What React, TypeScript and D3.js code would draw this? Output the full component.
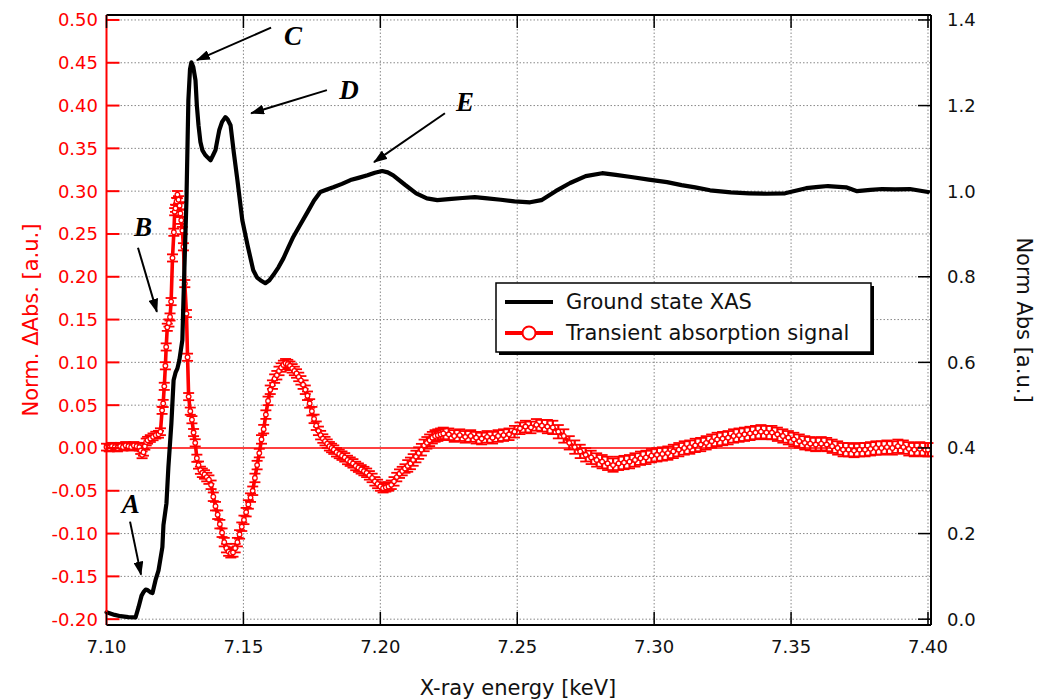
import React from "react";
import * as d3 from "d3";

// ---------- DATA ----------
const xTicks = [7.1, 7.15, 7.2, 7.25, 7.3, 7.35, 7.4];
const leftTicks = [-0.2, -0.15, -0.1, -0.05, 0, 0.05, 0.1, 0.15, 0.2, 0.25, 0.3, 0.35, 0.4, 0.45, 0.5];
const rightTicks = [0, 0.2, 0.4, 0.6, 0.8, 1.0, 1.2, 1.4];

// Ground state XAS (right axis): [energy keV, norm abs]
const groundState: [number, number][] = [
  [7.1, 0.016], [7.1011, 0.014], [7.103, 0.01], [7.1051, 0.007], [7.108, 0.005], [7.1106, 0.004],
  [7.1117, 0.028], [7.1128, 0.055], [7.1135, 0.063], [7.1143, 0.069], [7.115, 0.068], [7.116, 0.063],
  [7.1168, 0.061], [7.1179, 0.091], [7.119, 0.114], [7.1204, 0.168], [7.1208, 0.22], [7.1219, 0.271],
  [7.1226, 0.355], [7.1237, 0.458], [7.1245, 0.558], [7.1252, 0.576], [7.1259, 0.586], [7.1266, 0.605],
  [7.1277, 0.652], [7.1281, 0.745], [7.1292, 0.979], [7.1299, 1.213], [7.1305, 1.285], [7.131, 1.301],
  [7.1317, 1.29], [7.1325, 1.259], [7.133, 1.2], [7.1336, 1.154], [7.1343, 1.115], [7.135, 1.096],
  [7.136, 1.085], [7.1369, 1.079], [7.138, 1.072], [7.139, 1.085], [7.1398, 1.096], [7.1405, 1.12],
  [7.1412, 1.143], [7.1422, 1.162], [7.1434, 1.173], [7.1442, 1.168], [7.1453, 1.154], [7.1465, 1.09],
  [7.1478, 1.026], [7.1496, 0.932], [7.1515, 0.874], [7.1536, 0.815], [7.155, 0.798], [7.1562, 0.792],
  [7.158, 0.785], [7.1595, 0.792], [7.1609, 0.804], [7.1628, 0.822], [7.1646, 0.843], [7.1665, 0.87],
  [7.1682, 0.893], [7.1708, 0.922], [7.1734, 0.951], [7.1758, 0.978], [7.1781, 0.998], [7.1805, 1.004],
  [7.1828, 1.009], [7.186, 1.017], [7.1891, 1.026], [7.192, 1.031], [7.1953, 1.037], [7.198, 1.043],
  [7.2007, 1.047], [7.2027, 1.044], [7.2047, 1.037], [7.209, 1.015], [7.2131, 0.995], [7.217, 0.983],
  [7.2208, 0.979], [7.226, 0.982], [7.23, 0.984], [7.2345, 0.986], [7.2391, 0.983], [7.244, 0.98],
  [7.249, 0.976], [7.2547, 0.974], [7.2588, 0.979], [7.264, 1.0], [7.2693, 1.019], [7.275, 1.035],
  [7.281, 1.042], [7.286, 1.038], [7.2916, 1.033], [7.298, 1.027], [7.3047, 1.021], [7.31, 1.014],
  [7.315, 1.009], [7.3204, 1.002], [7.328, 0.997], [7.3347, 0.995], [7.341, 0.994], [7.3478, 0.995],
  [7.3555, 1.007], [7.36, 1.01], [7.3635, 1.012], [7.3701, 1.009], [7.3741, 1.0], [7.379, 1.003],
  [7.3832, 1.005], [7.388, 1.004], [7.3934, 1.005], [7.4, 0.998],
];

// Transient absorption signal (left axis): [energy keV, norm dAbs]
const transient: [number, number][] = [
  [7.1, 0.001], [7.101, 0.0], [7.102, 0.002], [7.103, 0.001], [7.104, 0.0], [7.105, 0.002], [7.106, 0.001],
  [7.107, 0.003], [7.108, 0.002], [7.109, 0.001], [7.11, 0.003], [7.111, 0.002], [7.112, 0.001],
  [7.1125, -0.003], [7.113, -0.008], [7.1135, -0.005], [7.114, 0.002], [7.1145, 0.007], [7.115, 0.009],
  [7.116, 0.011], [7.117, 0.013], [7.118, 0.015], [7.119, 0.016], [7.1197, 0.019], [7.1203, 0.044],
  [7.1207, 0.052], [7.1211, 0.072], [7.1215, 0.096], [7.1218, 0.118], [7.1222, 0.141], [7.1228, 0.146],
  [7.1232, 0.153], [7.1236, 0.171], [7.1241, 0.222], [7.1246, 0.252], [7.1249, 0.276], [7.1252, 0.28],
  [7.1256, 0.288], [7.1259, 0.296], [7.1263, 0.29], [7.1267, 0.283], [7.127, 0.274], [7.1273, 0.266],
  [7.1277, 0.254], [7.1281, 0.235], [7.1286, 0.192], [7.1292, 0.157], [7.1296, 0.106], [7.13, 0.06],
  [7.1306, 0.043], [7.1312, 0.033], [7.1318, 0.018], [7.1324, 0.006], [7.133, -0.012], [7.1336, -0.02],
  [7.1343, -0.026], [7.135, -0.029], [7.1358, -0.031], [7.1366, -0.034], [7.1374, -0.037], [7.1382, -0.043],
  [7.139, -0.057], [7.1398, -0.068], [7.1406, -0.078], [7.1414, -0.089], [7.1422, -0.099], [7.143, -0.11],
  [7.1438, -0.117], [7.1446, -0.121], [7.1454, -0.123], [7.1462, -0.122], [7.147, -0.117], [7.1478, -0.11],
  [7.1486, -0.101], [7.1494, -0.092], [7.1502, -0.084], [7.151, -0.075], [7.1518, -0.066], [7.1526, -0.058],
  [7.1534, -0.05], [7.1542, -0.035], [7.155, -0.02], [7.1558, -0.006], [7.1566, 0.01], [7.1574, 0.022],
  [7.1582, 0.039], [7.159, 0.055], [7.1598, 0.068], [7.1606, 0.074], [7.1614, 0.081], [7.1622, 0.085],
  [7.163, 0.09], [7.1638, 0.094], [7.1646, 0.097], [7.1654, 0.099], [7.1662, 0.098], [7.167, 0.096],
  [7.1678, 0.093], [7.1686, 0.09], [7.1694, 0.087], [7.1702, 0.083], [7.171, 0.079], [7.1718, 0.074],
  [7.1726, 0.068], [7.1734, 0.061], [7.1742, 0.052], [7.175, 0.043], [7.1758, 0.034], [7.1766, 0.026],
  [7.1774, 0.02], [7.1782, 0.015], [7.179, 0.011], [7.1798, 0.008], [7.1806, 0.005], [7.1814, 0.002],
  [7.1822, 0.0], [7.183, -0.002], [7.184, -0.005], [7.185, -0.007], [7.186, -0.009], [7.187, -0.011],
  [7.188, -0.014], [7.189, -0.016], [7.19, -0.018], [7.191, -0.021], [7.192, -0.023], [7.193, -0.025],
  [7.194, -0.027], [7.195, -0.029], [7.196, -0.032], [7.197, -0.035], [7.198, -0.039], [7.199, -0.042],
  [7.2, -0.045], [7.201, -0.047], [7.202, -0.046], [7.203, -0.045], [7.204, -0.043], [7.205, -0.039],
  [7.206, -0.034], [7.207, -0.03], [7.208, -0.027], [7.209, -0.024], [7.21, -0.021], [7.211, -0.018],
  [7.212, -0.014], [7.213, -0.01], [7.214, -0.006], [7.215, -0.002], [7.216, 0.003], [7.217, 0.006],
  [7.218, 0.009], [7.219, 0.012], [7.22, 0.014], [7.221, 0.015], [7.222, 0.016], [7.223, 0.017],
  [7.225, 0.016], [7.227, 0.014], [7.229, 0.015], [7.231, 0.013], [7.233, 0.014], [7.235, 0.012],
  [7.237, 0.011], [7.239, 0.013], [7.241, 0.012], [7.243, 0.014], [7.245, 0.015], [7.247, 0.016],
  [7.249, 0.019], [7.251, 0.023], [7.253, 0.025], [7.255, 0.024], [7.257, 0.027], [7.259, 0.026],
  [7.261, 0.025], [7.263, 0.024], [7.265, 0.019], [7.267, 0.014], [7.269, 0.006], [7.271, 0.001],
  [7.273, -0.004], [7.275, -0.008], [7.277, -0.011], [7.279, -0.014], [7.281, -0.016], [7.283, -0.018],
  [7.285, -0.02], [7.287, -0.018], [7.289, -0.017], [7.291, -0.016], [7.293, -0.014], [7.295, -0.012],
  [7.297, -0.011], [7.299, -0.009], [7.301, -0.008], [7.303, -0.007], [7.305, -0.006], [7.307, -0.004],
  [7.309, -0.002], [7.311, 0.0], [7.313, 0.001], [7.315, 0.003], [7.317, 0.004], [7.319, 0.006],
  [7.321, 0.008], [7.323, 0.01], [7.325, 0.011], [7.327, 0.012], [7.329, 0.014], [7.331, 0.015],
  [7.333, 0.016], [7.335, 0.017], [7.337, 0.018], [7.339, 0.019], [7.341, 0.018], [7.343, 0.018],
  [7.345, 0.016], [7.347, 0.014], [7.349, 0.012], [7.351, 0.01], [7.353, 0.008], [7.355, 0.006],
  [7.357, 0.005], [7.359, 0.004], [7.361, 0.005], [7.363, 0.004], [7.365, 0.002], [7.367, 0.0],
  [7.369, -0.002], [7.371, -0.002], [7.373, -0.003], [7.375, -0.002], [7.377, -0.002], [7.379, -0.001],
  [7.381, 0.0], [7.383, 0.0], [7.385, 0.001], [7.387, 0.0], [7.389, 0.002], [7.391, 0.001],
  [7.393, -0.001], [7.395, -0.002], [7.397, -0.001], [7.399, -0.002], [7.4, -0.002],
];

// error bar half-widths by energy band: [start energy, error]
const errorBands: [number, number][] = [
  [7.1, 0.004], [7.12, 0.0042], [7.135, 0.005], [7.21, 0.0068], [7.26, 0.0078],
];

// annotations in data coordinates (energy, left-axis value)
const annotations = [
  { label: "A", tx: 7.1089, ty: -0.065, from: [7.1086, -0.086], to: [7.1126, -0.148] },
  { label: "B", tx: 7.1133, ty: 0.258, from: [7.1115, 0.234], to: [7.1184, 0.159] },
  { label: "C", tx: 7.1681, ty: 0.481, from: [7.1601, 0.491], to: [7.133, 0.453] },
  { label: "D", tx: 7.1886, ty: 0.418, from: [7.1805, 0.418], to: [7.1528, 0.391] },
  { label: "E", tx: 7.2309, ty: 0.404, from: [7.2236, 0.391], to: [7.1977, 0.334] },
];

const legendLabels = ["Ground state XAS", "Transient absorption signal"];

// ---------- LAYOUT ----------
const W = 1038;
const H = 700;
const PL = 106.5, PR = 931, PT = 15, PB = 625;
const RED = "#ff0000";
const FONT = "'DejaVu Sans', Verdana, sans-serif";

const x = d3.scaleLinear().domain([7.1, 7.4011]).range([PL, PR]);
const yL = d3.scaleLinear().domain([-0.2068, 0.5058]).range([PB, PT]);
const yR = d3.scaleLinear().domain([-0.0136, 1.4116]).range([PB, PT]);

function errFor(e: number) {
  let err = errorBands[0][1];
  for (const [s, v] of errorBands) if (e >= s) err = v;
  return err;
}

export default function App() {
  const blackLine = d3.line<[number, number]>().x((d) => x(d[0])).y((d) => yR(d[1]))(groundState) || "";
  const redLine = d3.line<[number, number]>().x((d) => x(d[0])).y((d) => yL(d[1]))(transient) || "";
  const tickLen = 13;
  const cap = 5.5;

  return (
    <svg width={W} height={H} style={{ position: "absolute", left: 0, top: 0, background: "#fff" }} fontFamily={FONT}>
      <defs>
        <marker id="arrowHead" markerUnits="userSpaceOnUse" viewBox="0 0 14 10" refX={13} refY={5}
          markerWidth={14} markerHeight={10} orient="auto">
          <path d="M0,0 L14,5 L0,10 Z" fill="#000" />
        </marker>
      </defs>
      <rect x={0} y={0} width={W} height={H} fill="#fff" />

      {/* grid */}
      <g stroke="#888" strokeWidth={1} strokeDasharray="1.5,2">
        {leftTicks.filter((t) => Math.abs(t) > 1e-9).map((t) => (
          <line key={"gy" + t} x1={PL} x2={PR} y1={yL(t)} y2={yL(t)} />
        ))}
        {xTicks.slice(1).map((t) => (
          <line key={"gx" + t} x1={x(t)} x2={x(t)} y1={PT} y2={PB} />
        ))}
      </g>
      {/* zero line */}
      <line x1={PL} x2={PR} y1={yL(0)} y2={yL(0)} stroke={RED} strokeWidth={1.5} />

      {/* transient series */}
      <path d={redLine} fill="none" stroke={RED} strokeWidth={3.6} strokeLinejoin="round" />
      <g stroke={RED} strokeWidth={1.8}>
        {transient.map((d, i) => {
          const e = errFor(d[0]);
          const cx = x(d[0]);
          const y1 = yL(d[1] - e);
          const y2 = yL(d[1] + e);
          return (
            <g key={"eb" + i}>
              <line x1={cx} x2={cx} y1={y1} y2={y2} strokeWidth={2.2} />
              <line x1={cx - cap} x2={cx + cap} y1={y1} y2={y1} />
              <line x1={cx - cap} x2={cx + cap} y1={y2} y2={y2} />
            </g>
          );
        })}
      </g>
      <g>
        {transient.map((d, i) => (
          <circle key={"m" + i} cx={x(d[0])} cy={yL(d[1])} r={2.3} fill="#fff" stroke={RED} strokeWidth={1.3} />
        ))}
      </g>

      {/* ground state */}
      <path d={blackLine} fill="none" stroke="#000" strokeWidth={4.2} strokeLinejoin="round" strokeLinecap="round" />

      {/* frame */}
      <line x1={PL} x2={PR} y1={PT} y2={PT} stroke="#000" strokeWidth={2} />
      <line x1={PR} x2={PR} y1={PT} y2={PB} stroke="#000" strokeWidth={2} />
      <line x1={PL} x2={PR} y1={PB} y2={PB} stroke="#000" strokeWidth={2} />
      <line x1={PL} x2={PL} y1={PT} y2={PB} stroke={RED} strokeWidth={2} />

      {/* left ticks */}
      <g>
        {leftTicks.map((t) => (
          <g key={"lt" + t}>
            <line x1={PL} x2={PL + tickLen} y1={yL(t)} y2={yL(t)} stroke={RED} strokeWidth={2} />
            <text x={98} y={yL(t)} textAnchor="end" dominantBaseline="central" fill={RED} fontSize={18}>
              {t.toFixed(2)}
            </text>
          </g>
        ))}
      </g>
      {/* right ticks */}
      <g>
        {rightTicks.map((t) => (
          <g key={"rt" + t}>
            <line x1={PR - tickLen} x2={PR} y1={yR(t)} y2={yR(t)} stroke="#000" strokeWidth={1.5} />
            <text x={947} y={yR(t)} textAnchor="start" dominantBaseline="central" fill="#111" fontSize={18}>
              {t.toFixed(1)}
            </text>
          </g>
        ))}
      </g>
      {/* x ticks bottom & top */}
      <g>
        {xTicks.map((t) => (
          <g key={"xt" + t}>
            <line x1={x(t)} x2={x(t)} y1={PB} y2={PB - tickLen} stroke="#000" strokeWidth={1.5} />
            <line x1={x(t)} x2={x(t)} y1={PT} y2={PT + tickLen} stroke="#000" strokeWidth={1.5} />
            <text x={x(t)} y={646} textAnchor="middle" dominantBaseline="central" fill="#111" fontSize={18}>
              {t.toFixed(2)}
            </text>
          </g>
        ))}
      </g>

      {/* axis titles */}
      <text transform={`translate(31,${(PT + PB) / 2}) rotate(-90)`} textAnchor="middle" dominantBaseline="central"
        fill={RED} fontSize={21}>Norm. ΔAbs. [a.u.]</text>
      <text transform={`translate(1024,${(PT + PB) / 2}) rotate(90)`} textAnchor="middle" dominantBaseline="central"
        fill="#111" fontSize={21}>Norm Abs [a.u.]</text>
      <text x={518} y={688} textAnchor="middle" dominantBaseline="central" fill="#111" fontSize={21}>
        X-ray energy [keV]
      </text>

      {/* legend */}
      <g>
        <rect x={499} y={286} width={375} height={69} fill="#000" />
        <rect x={496} y={283} width={375} height={69} fill="#fff" stroke="#000" strokeWidth={1.5} />
        <line x1={505} x2={553} y1={302} y2={302} stroke="#000" strokeWidth={4} />
        <text x={566} y={302} dominantBaseline="central" fontSize={21} fill="#111">{legendLabels[0]}</text>
        <line x1={505} x2={553} y1={333} y2={333} stroke={RED} strokeWidth={4} />
        <circle cx={529} cy={333} r={6.5} fill="#fff" stroke={RED} strokeWidth={2} />
        <text x={566} y={333} dominantBaseline="central" fontSize={21} fill="#111">{legendLabels[1]}</text>
      </g>

      {/* annotations */}
      <g>
        {annotations.map((a) => (
          <g key={a.label}>
            <line x1={x(a.from[0])} y1={yL(a.from[1])} x2={x(a.to[0])} y2={yL(a.to[1])}
              stroke="#000" strokeWidth={2} markerEnd="url(#arrowHead)" />
            <text x={x(a.tx)} y={yL(a.ty)} textAnchor="middle" dominantBaseline="central"
              fontFamily="'Liberation Serif', 'DejaVu Serif', serif" fontStyle="italic" fontWeight="bold"
              fontSize={27} fill="#000">{a.label}</text>
          </g>
        ))}
      </g>
    </svg>
  );
}
